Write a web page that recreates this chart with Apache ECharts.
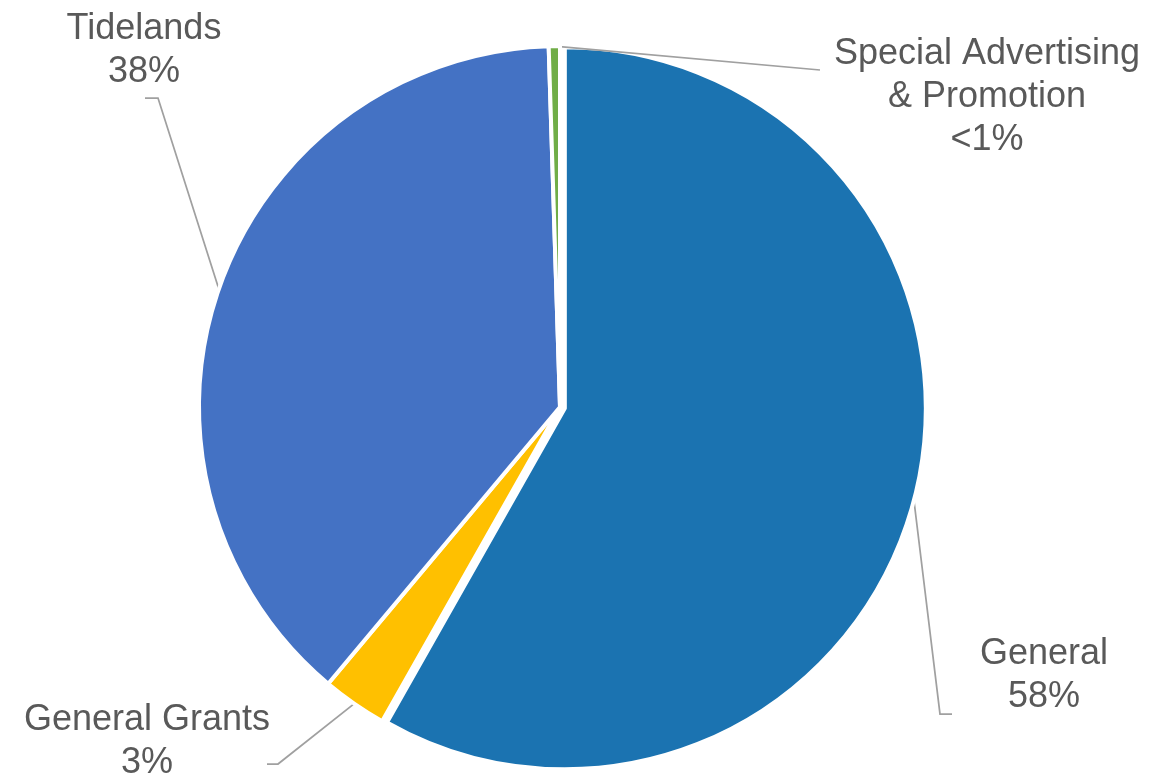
<!DOCTYPE html>
<html>
<head>
<meta charset="utf-8">
<title>Fund Sources</title>
<script src="https://cdn.jsdelivr.net/npm/echarts@6/dist/echarts.min.js"></script>
<style>
  html, body { margin: 0; padding: 0; background: #ffffff; }
  #chart { width: 1169px; height: 773px; }
</style>
</head>
<body>
<div id="chart"></div>
<script>
// Fund shares (percent of total), in clockwise order starting at 12 o'clock
const categories = ['General', 'General Grants', 'Tidelands', 'Special Advertising\n& Promotion'];
const shares = [58.2, 2.9, 38.4, 0.5];
const sliceColors = ['#1b73b1', '#ffc000', '#4472c4', '#70ad47'];

// Pie geometry and the pulled-out slice
const pieCenter = [560, 407];
const pieRadius = 361;
const explodedIndex = 0;
const explodeDistance = 5;

// Label block centres and leader-line tail offsets (relative to the label centre)
const labelPlacement = [
  { pos: [1044, 676], tail: [[-104, 38], [-92, 38]] },
  { pos: [147, 742], tail: [[131, 22], [120, 22]] },
  { pos: [144, 51], tail: [[14, 47], [1, 47]] },
  { pos: [987, 97], tail: [[-167, -27], [-167, -27]] }
];

const total = shares.reduce(function (a, b) { return a + b; }, 0);

// Centre of the pulled-out slice: shifted along its bisector
function explodedCenter() {
  let before = 0;
  for (let i = 0; i < explodedIndex; i++) before += shares[i];
  const midFrac = (before + shares[explodedIndex] / 2) / total;
  const ang = (90 - midFrac * 360) * Math.PI / 180;
  return [pieCenter[0] + Math.cos(ang) * explodeDistance,
          pieCenter[1] - Math.sin(ang) * explodeDistance];
}

function pctText(p) {
  return p < 1 ? '<1%' : Math.round(p) + '%';
}

const labelStyle = {
  show: true,
  position: 'outside',
  formatter: function (p) { return p.name + '\n' + pctText(p.percent); },
  fontFamily: '"Liberation Sans", Arial, sans-serif',
  fontSize: 36,
  lineHeight: 43,
  color: '#595959',
  align: 'center'
};

function placeLabel(params) {
  const cfg = labelPlacement[params.dataIndex];
  const start = params.labelLinePoints ? params.labelLinePoints[0] : cfg.pos;
  return {
    x: cfg.pos[0],
    y: cfg.pos[1],
    align: 'center',
    verticalAlign: 'middle',
    labelLinePoints: [
      [start[0], start[1]],
      [cfg.pos[0] + cfg.tail[0][0], cfg.pos[1] + cfg.tail[0][1]],
      [cfg.pos[0] + cfg.tail[1][0], cfg.pos[1] + cfg.tail[1][1]]
    ]
  };
}

// Build one ring of slices; only the slices selected by `visible` are painted
function buildData(visible) {
  return categories.map(function (name, i) {
    const on = visible(i);
    return {
      name: name,
      value: shares[i],
      itemStyle: on
        ? { color: sliceColors[i], borderColor: '#ffffff', borderWidth: 4 }
        : { color: 'rgba(0,0,0,0)', borderWidth: 0 },
      label: { show: on },
      labelLine: { show: on }
    };
  });
}

function pieSeries(center, visible, z) {
  return {
    type: 'pie',
    z: z,
    center: center,
    radius: pieRadius,
    startAngle: 90,
    clockwise: true,
    silent: true,
    avoidLabelOverlap: false,
    emphasis: { disabled: true },
    label: labelStyle,
    labelLine: {
      smooth: false,
      lineStyle: { color: '#a0a0a0', width: 1.75 }
    },
    labelLayout: placeLabel,
    data: buildData(visible)
  };
}

const chart = echarts.init(document.getElementById('chart'), null, { renderer: 'canvas' });
chart.setOption({
  animation: false,
  backgroundColor: '#ffffff',
  series: [
    // the pulled-out slice sits underneath so neighbouring leader lines stay visible
    pieSeries(explodedCenter(), function (i) { return i === explodedIndex; }, 2),
    pieSeries(pieCenter, function (i) { return i !== explodedIndex; }, 3)
  ]
});
</script>
</body>
</html>
